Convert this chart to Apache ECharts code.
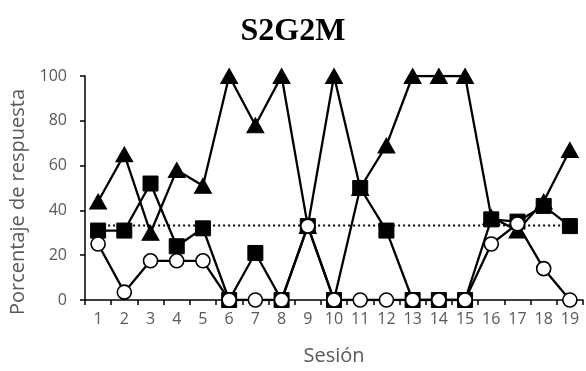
<!DOCTYPE html>
<html>
<head>
<meta charset="utf-8">
<script src="https://cdn.jsdelivr.net/npm/echarts@6/dist/echarts.min.js"></script>
<style>html,body{margin:0;padding:0;background:#fff;}#c{width:586px;height:371px;}</style>
</head>
<body>
<div id="c"></div>
<script>
const sessions = ['1','2','3','4','5','6','7','8','9','10','11','12','13','14','15','16','17','18','19'];
const triangles = [44, 65, 30, 58, 51, 100, 78, 100, 33, 100, 50, 69, 100, 100, 100, 37, 31, 44, 67];
const squares   = [31, 31, 52, 24, 32, 0, 21, 0, 33, 0, 50, 31, 0, 0, 0, 36, 35, 42, 33];
const circles   = [25, 3.5, 17.5, 17.5, 17.5, 0, 0, 0, 33, 0, 0, 0, 0, 0, 0, 25, 34, 14, 0];
const chance    = [33.3, 33.3, 33.3, 33.3, 33.3, 33.3, 33.3, 33.3, 33.3, 33.3, 33.3, 33.3, 33.3, 33.3, 33.3, 33.3, 33.3, 33.3, 33.3];
const yTicks = [0, 20, 40, 60, 80, 100];

const font = '"Open Sans", sans-serif';
const gray = '#595959';
const chart = echarts.init(document.getElementById('c'), null, {renderer: 'canvas'});
chart.setOption({
  animation: false,
  backgroundColor: '#fff',
  title: {
    text: 'S2G2M', left: 'center', top: 11,
    textStyle: {fontFamily: '"Liberation Serif", serif', fontWeight: 'bold', fontSize: 32, color: '#000'}
  },
  grid: {left: 85, right: 3, top: 76, bottom: 69, containLabel: false},
  xAxis: {
    type: 'category', data: sessions, boundaryGap: true,
    name: 'Sesión', nameLocation: 'middle', nameGap: 46,
    nameTextStyle: {fontFamily: font, fontSize: 20, color: gray},
    axisLine: {lineStyle: {color: '#000', width: 1.5}},
    axisTick: {show: true, inside: false, length: 5, lineStyle: {color: '#000', width: 1.5}},
    axisLabel: {fontFamily: font, fontSize: 16, color: gray, margin: 11}
  },
  yAxis: {
    type: 'value', min: 0, max: 100, interval: 20,
    name: 'Porcentaje de respuesta', nameLocation: 'middle', nameGap: 57,
    nameTextStyle: {fontFamily: font, fontSize: 20, color: gray, padding: [0, 28, 0, 0]},
    axisLine: {show: true, lineStyle: {color: '#000', width: 1.5}},
    axisTick: {show: true, inside: false, length: 5, lineStyle: {color: '#000', width: 1.5}},
    splitLine: {show: false},
    axisLabel: {fontFamily: font, fontSize: 16, color: gray, margin: 18,
      formatter: v => yTicks.includes(v) ? String(v) : ''}
  },
  series: [
    {type: 'line', data: chance, symbol: 'none', z: 1,
     lineStyle: {color: '#000', width: 2, type: [2, 3]}},
    {type: 'line', data: triangles, symbol: 'triangle', symbolSize: [17, 15], z: 2,
     itemStyle: {color: '#000', borderColor: '#000'}, lineStyle: {color: '#000', width: 2.3}},
    {type: 'line', data: squares, symbol: 'rect', symbolSize: 15, z: 3,
     itemStyle: {color: '#000', borderColor: '#000'}, lineStyle: {color: '#000', width: 2.3}},
    {type: 'line', data: circles, symbol: 'circle', symbolSize: 14, z: 4,
     itemStyle: {color: '#fff', borderColor: '#000', borderWidth: 1.6}, lineStyle: {color: '#000', width: 2.3}}
  ]
});
</script>
</body>
</html>
